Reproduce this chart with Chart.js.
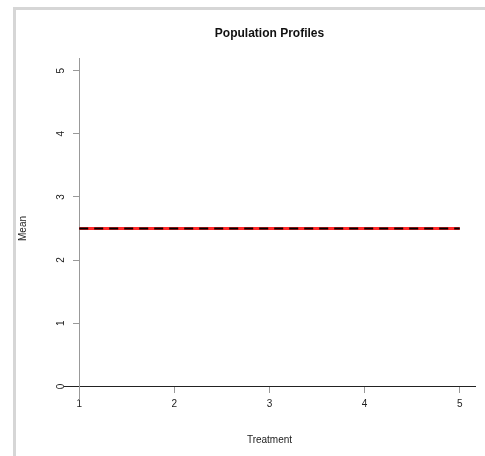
<!DOCTYPE html>
<html>
<head>
<meta charset="utf-8">
<script src="https://cdn.jsdelivr.net/npm/chart.js@4.4.0/dist/chart.umd.min.js"></script>
<style>
  html, body { margin: 0; padding: 0; background: #fff; }
  .page { position: relative; width: 485px; height: 456px; overflow: hidden; }
  .edge { position: absolute; left: 13px; top: 7px; right: -10px; bottom: -10px;
          border-top: 3px solid #d6d6d6; border-left: 3px solid #d6d6d6; }
  canvas { position: absolute; left: 0; top: 0; }
</style>
</head>
<body>
<div class="page">
  <div class="edge"></div>
  <canvas id="myChart" width="485" height="456"></canvas>
</div>
<script>
// treatments on the x axis, profile means per population
const treatments = [1, 2, 3, 4, 5];
const meanPop1 = [2.5, 2.5, 2.5, 2.5, 2.5];
const meanPop2 = [2.5, 2.5, 2.5, 2.5, 2.5];
const yTicks = [0, 1, 2, 3, 4, 5];

const FONT = "'Liberation Sans', Arial, Helvetica, sans-serif";

const toPoints = (vals) => treatments.map((t, i) => ({ x: t, y: vals[i] }));

// y tick labels are rotated like base R (las = 0), axis titles drawn at the page edges
const extras = {
  id: 'extras',
  afterDraw(chart) {
    const { ctx, chartArea, scales } = chart;
    const xs = scales.x, ys = scales.y;
    ctx.save();
    ctx.fillStyle = '#222';
    ctx.font = '10px ' + FONT;
    ctx.textAlign = 'center';
    ctx.textBaseline = 'middle';
    const axisX = xs.getPixelForValue(treatments[0]);
    yTicks.forEach(v => {
      ctx.save();
      ctx.translate(axisX - 18, ys.getPixelForValue(v));
      ctx.rotate(-Math.PI / 2);
      ctx.fillText(String(v), 0, 0);
      ctx.restore();
    });
    // axis titles
    const midX = (chartArea.left + chartArea.right) / 2;
    const midY = (chartArea.top + chartArea.bottom) / 2;
    ctx.fillText('Treatment', midX, 440);
    ctx.save();
    ctx.translate(23, midY);
    ctx.rotate(-Math.PI / 2);
    ctx.fillText('Mean', 0, 0);
    ctx.restore();
    ctx.restore();
  }
};

new Chart(document.getElementById('myChart').getContext('2d'), {
  type: 'line',
  data: {
    datasets: [
      {
        label: 'Population 1',
        data: toPoints(meanPop1),
        borderColor: '#ff2a2a',
        borderWidth: 3,
        pointRadius: 0,
        order: 2,
        fill: false
      },
      {
        label: 'Population 2',
        data: toPoints(meanPop2),
        borderColor: '#000000',
        borderWidth: 2,
        borderDash: [9, 6],
        pointRadius: 0,
        order: 1,
        fill: false
      }
    ]
  },
  plugins: [extras],
  options: {
    responsive: false,
    animation: false,
    events: [],
    layout: { padding: { left: 64, right: 10, top: 20, bottom: 57 } },
    plugins: {
      legend: { display: false },
      tooltip: { enabled: false },
      title: {
        display: true,
        text: 'Population Profiles',
        color: '#111',
        font: { family: FONT, size: 12, weight: 'bold', lineHeight: 1.2 },
        padding: { top: 6, bottom: 17.6 }
      }
    },
    scales: {
      x: {
        type: 'linear',
        min: 0.84,
        max: 5.16,
        position: { y: 0 },
        afterBuildTicks: s => { s.ticks = treatments.map(v => ({ value: v })); },
        grid: { drawOnChartArea: false, drawTicks: true, tickLength: 6, color: '#999' },
        border: { display: true, color: '#222', width: 1 },
        ticks: { color: '#222', padding: 6, maxRotation: 0, font: { family: FONT, size: 10 } }
      },
      y: {
        type: 'linear',
        min: -0.2,
        max: 5.2,
        position: { x: 1 },
        afterBuildTicks: s => { s.ticks = yTicks.map(v => ({ value: v })); },
        grid: { drawOnChartArea: false, drawTicks: true, tickLength: 6, color: '#999' },
        border: { display: true, color: '#999', width: 1 },
        ticks: { display: false }
      }
    }
  }
});
</script>
</body>
</html>
